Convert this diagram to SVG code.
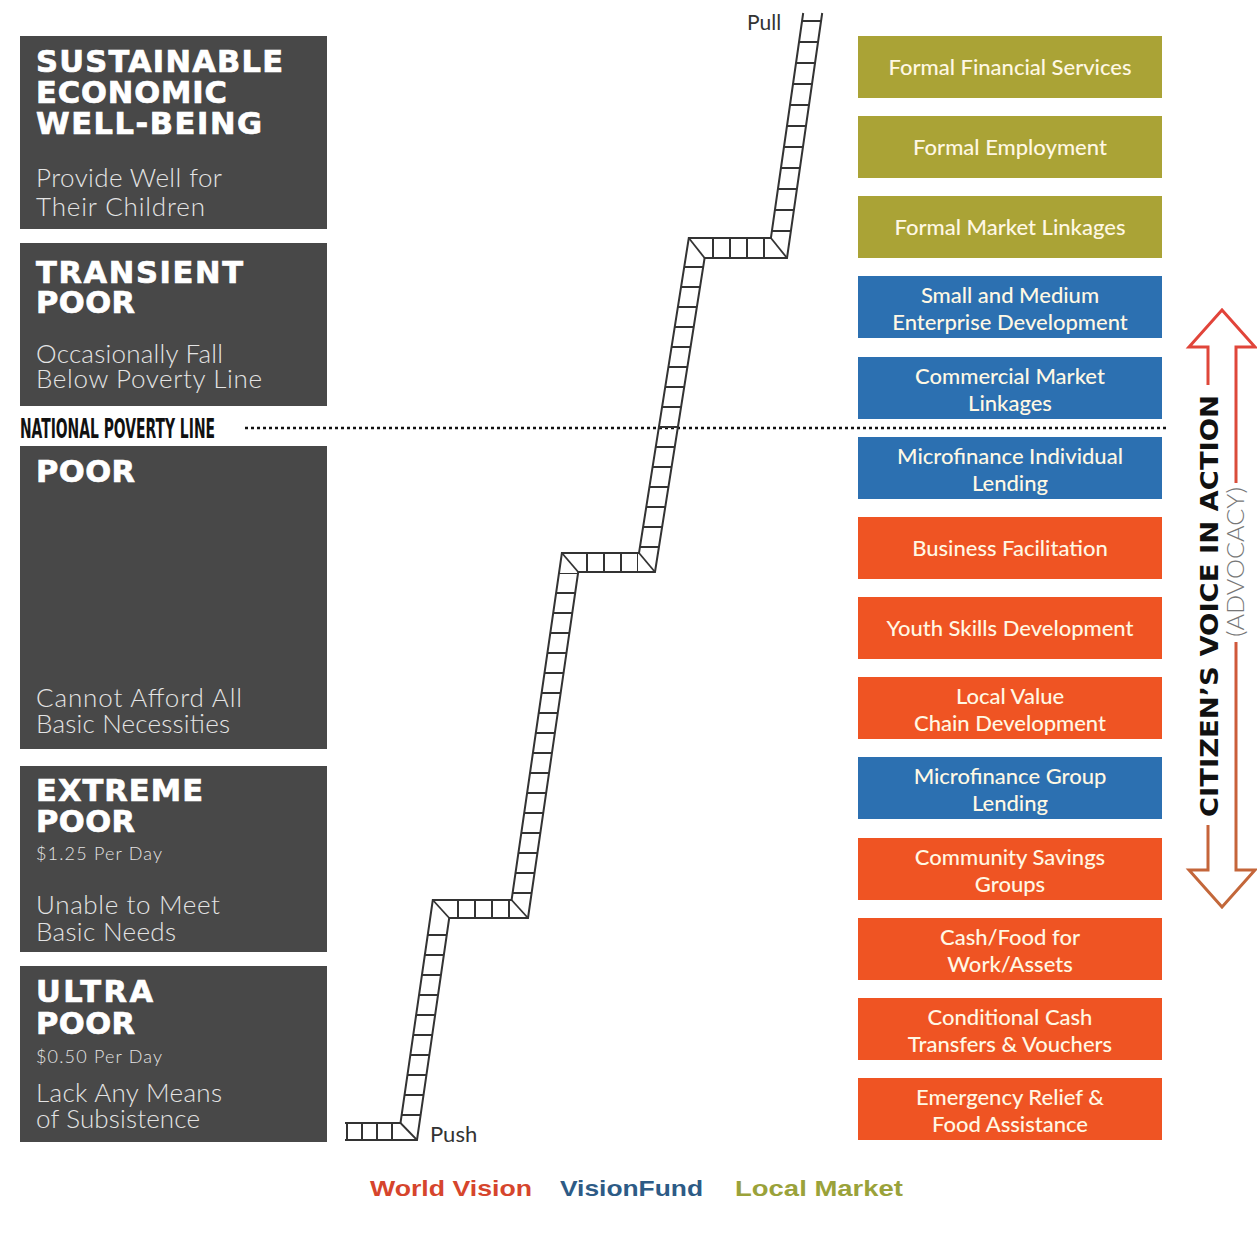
<svg xmlns="http://www.w3.org/2000/svg" width="1257" height="1242" viewBox="0 0 1257 1242">
<defs>
<style>
.lb{fill:#484848}
.tt{font-family:"DejaVu Sans",sans-serif;font-weight:bold;font-size:30.5px;fill:#ffffff;stroke:#ffffff;stroke-width:0.7}
.st{font-family:Lato,"Liberation Sans",sans-serif;font-weight:300;font-size:26px;fill:#e4e4e4}
.sm{font-family:Lato,"Liberation Sans",sans-serif;font-weight:300;font-size:18px;fill:#e4e4e4}
.rt{font-family:Lato,"Liberation Sans",sans-serif;font-weight:500;font-size:22px;fill:#fff8e4;text-anchor:middle}
.ol{fill:#aaa336}
.bl{fill:#2c70b1}
.or{fill:#ef5423}
.rail{fill:none;stroke:#333;stroke-width:2;stroke-linejoin:miter}
.rung{fill:none;stroke:#333}
.fold{stroke:#333;stroke-width:1.8}
</style>
<linearGradient id="ag" gradientUnits="userSpaceOnUse" x1="0" y1="310" x2="0" y2="910">
<stop offset="0" stop-color="#e2433a"/>
<stop offset="1" stop-color="#c2683a"/>
</linearGradient>
</defs>
<rect width="1257" height="1242" fill="#ffffff"/>

<g id="level-sustainable">
<rect class="lb" x="20" y="36" width="307" height="193"/>
<text class="tt" x="36" y="72" textLength="247" lengthAdjust="spacing">SUSTAINABLE</text>
<text class="tt" x="36" y="103" textLength="191" lengthAdjust="spacing">ECONOMIC</text>
<text class="tt" x="36" y="134" textLength="226" lengthAdjust="spacing">WELL-BEING</text>
<text class="st" x="36" y="187" textLength="186">Provide Well for</text>
<text class="st" x="36" y="216" textLength="169">Their Children</text>
</g>
<g id="level-transient">
<rect class="lb" x="20" y="243" width="307" height="163"/>
<text class="tt" x="36" y="283" textLength="207" lengthAdjust="spacing">TRANSIENT</text>
<text class="tt" x="36" y="313" textLength="99" lengthAdjust="spacing">POOR</text>
<text class="st" x="36" y="363" textLength="187">Occasionally Fall</text>
<text class="st" x="36" y="388" textLength="226">Below Poverty Line</text>
</g>
<g id="level-poor">
<rect class="lb" x="20" y="446" width="307" height="303"/>
<text class="tt" x="36" y="482" textLength="99" lengthAdjust="spacing">POOR</text>
<text class="st" x="36" y="707" textLength="206">Cannot Afford All</text>
<text class="st" x="36" y="733" textLength="194">Basic Necessities</text>
</g>
<g id="level-extreme">
<rect class="lb" x="20" y="766" width="307" height="186"/>
<text class="tt" x="36" y="801" textLength="167" lengthAdjust="spacing">EXTREME</text>
<text class="tt" x="36" y="832" textLength="99" lengthAdjust="spacing">POOR</text>
<text class="sm" x="36" y="860" textLength="126">$1.25 Per Day</text>
<text class="st" x="36" y="914" textLength="184">Unable to Meet</text>
<text class="st" x="36" y="941" textLength="140">Basic Needs</text>
</g>
<g id="level-ultra">
<rect class="lb" x="20" y="966" width="307" height="176"/>
<text class="tt" x="36" y="1002" textLength="117" lengthAdjust="spacing">ULTRA</text>
<text class="tt" x="36" y="1034" textLength="99" lengthAdjust="spacing">POOR</text>
<text class="sm" x="36" y="1063" textLength="126">$0.50 Per Day</text>
<text class="st" x="36" y="1102" textLength="186">Lack Any Means</text>
<text class="st" x="36" y="1128" textLength="164">of Subsistence</text>
</g>

<g id="poverty-line">
<text x="20" y="438" font-family="'Liberation Sans Narrow','DejaVu Sans Condensed','Liberation Sans',sans-serif" font-weight="bold" font-size="26" fill="#111" textLength="195" lengthAdjust="spacingAndGlyphs">NATIONAL POVERTY LINE</text>
<line x1="245" y1="428" x2="1166" y2="428" stroke="#111" stroke-width="2.5" stroke-dasharray="3 3"/>
</g>

<g id="ladder">
<path class="rail" d="M345,1123 L400.5,1123 L432.8,900 L511.6,900 L561.9,553 L639,553 L688.8,238 L770.9,238 L803.2,13"/>
<path class="rail" d="M345,1140 L417,1140 L449.2,918 L528,918 L578.2,572 L655,572 L704.6,258 L787,258 L822.2,13"/>
<line class="fold" x1="400.5" y1="1123" x2="417" y2="1140"/>
<line class="fold" x1="432.8" y1="900" x2="449.2" y2="918"/>
<line class="fold" x1="511.6" y1="900" x2="528" y2="918"/>
<line class="fold" x1="561.9" y1="553" x2="578.2" y2="572"/>
<line class="fold" x1="639" y1="553" x2="655" y2="572"/>
<line class="fold" x1="688.8" y1="238" x2="704.6" y2="258"/>
<line class="fold" x1="770.9" y1="238" x2="787" y2="258"/>
<line class="rung" x1="346" y1="1131.5" x2="398" y2="1131.5" stroke-width="17" stroke-dasharray="2 13"/>
<line class="rung" x1="457" y1="909" x2="510" y2="909" stroke-width="18" stroke-dasharray="2 15"/>
<line class="rung" x1="586" y1="562.5" x2="638" y2="562.5" stroke-width="19" stroke-dasharray="2 15"/>
<line class="rung" x1="712" y1="248" x2="770" y2="248" stroke-width="20" stroke-dasharray="2 15"/>
<g transform="translate(398,1140) skewX(-8.25)">
<line class="rung" x1="9.5" y1="-24" x2="9.5" y2="-222" stroke-width="19" stroke-dasharray="2 18"/>
</g>
<g transform="translate(509,918) skewX(-8.25)">
<line class="rung" x1="9.5" y1="-24" x2="9.5" y2="-345" stroke-width="19" stroke-dasharray="2 18"/>
</g>
<g transform="translate(636,572) skewX(-8.98)">
<line class="rung" x1="9.5" y1="-24" x2="9.5" y2="-314" stroke-width="19" stroke-dasharray="2 18"/>
</g>
<g transform="translate(768,258) skewX(-8.25)">
<line class="rung" x1="9.5" y1="-26" x2="9.5" y2="-240" stroke-width="19" stroke-dasharray="2 19"/>
</g>
<text x="430" y="1142" font-family="Lato,'Liberation Sans',sans-serif" font-size="22" fill="#333">Push</text>
<text x="747" y="30" font-family="Lato,'Liberation Sans',sans-serif" font-size="21" fill="#333">Pull</text>
</g>

<g id="svc-formal-financial"><rect class="ol" x="858" y="36" width="304" height="62"/><text class="rt" x="1010" y="75">Formal Financial Services</text></g>
<g id="svc-formal-employment"><rect class="ol" x="858" y="116" width="304" height="62"/><text class="rt" x="1010" y="155">Formal Employment</text></g>
<g id="svc-formal-market"><rect class="ol" x="858" y="196" width="304" height="62"/><text class="rt" x="1010" y="235">Formal Market Linkages</text></g>
<g id="svc-sme"><rect class="bl" x="858" y="276" width="304" height="62"/><text class="rt" x="1010" y="303">Small and Medium</text><text class="rt" x="1010" y="330">Enterprise Development</text></g>
<g id="svc-commercial"><rect class="bl" x="858" y="357" width="304" height="62"/><text class="rt" x="1010" y="384">Commercial Market</text><text class="rt" x="1010" y="411">Linkages</text></g>
<g id="svc-mf-individual"><rect class="bl" x="858" y="437" width="304" height="62"/><text class="rt" x="1010" y="464">Microfinance Individual</text><text class="rt" x="1010" y="491">Lending</text></g>
<g id="svc-business"><rect class="or" x="858" y="517" width="304" height="62"/><text class="rt" x="1010" y="556">Business Facilitation</text></g>
<g id="svc-youth"><rect class="or" x="858" y="597" width="304" height="62"/><text class="rt" x="1010" y="636">Youth Skills Development</text></g>
<g id="svc-value-chain"><rect class="or" x="858" y="677" width="304" height="62"/><text class="rt" x="1010" y="704">Local Value</text><text class="rt" x="1010" y="731">Chain Development</text></g>
<g id="svc-mf-group"><rect class="bl" x="858" y="757" width="304" height="62"/><text class="rt" x="1010" y="784">Microfinance Group</text><text class="rt" x="1010" y="811">Lending</text></g>
<g id="svc-savings"><rect class="or" x="858" y="838" width="304" height="62"/><text class="rt" x="1010" y="865">Community Savings</text><text class="rt" x="1010" y="892">Groups</text></g>
<g id="svc-cash-food"><rect class="or" x="858" y="918" width="304" height="62"/><text class="rt" x="1010" y="945">Cash/Food for</text><text class="rt" x="1010" y="972">Work/Assets</text></g>
<g id="svc-cct"><rect class="or" x="858" y="998" width="304" height="62"/><text class="rt" x="1010" y="1025">Conditional Cash</text><text class="rt" x="1010" y="1052">Transfers &amp; Vouchers</text></g>
<g id="svc-emergency"><rect class="or" x="858" y="1078" width="304" height="62"/><text class="rt" x="1010" y="1105">Emergency Relief &amp;</text><text class="rt" x="1010" y="1132">Food Assistance</text></g>

<g id="advocacy">
<path d="M1208,385 L1208,347 L1189,347 L1222,310 L1255,347 L1236,347 L1236,483" fill="none" stroke="url(#ag)" stroke-width="3"/>
<path d="M1236,642 L1236,870 L1255,870 L1222,907 L1189,870 L1208,870 L1208,825" fill="none" stroke="url(#ag)" stroke-width="3"/>
<text transform="translate(1218,606) rotate(-90)" text-anchor="middle" font-family="'DejaVu Sans',sans-serif" font-weight="bold" font-size="25" fill="#111" textLength="422" lengthAdjust="spacingAndGlyphs">CITIZEN’S VOICE IN ACTION</text>
<text transform="translate(1244,562) rotate(-90)" text-anchor="middle" font-family="Lato,'Liberation Sans',sans-serif" font-weight="300" font-size="24" fill="#777" textLength="150" lengthAdjust="spacingAndGlyphs">(ADVOCACY)</text>
</g>

<g id="legend" font-family="'Liberation Sans',sans-serif" font-weight="bold" font-size="22">
<text x="370" y="1196" fill="#d6452c" textLength="162" lengthAdjust="spacingAndGlyphs">World Vision</text>
<text x="560" y="1196" fill="#2d5b86" textLength="143" lengthAdjust="spacingAndGlyphs">VisionFund</text>
<text x="735" y="1196" fill="#9aa23a" textLength="168" lengthAdjust="spacingAndGlyphs">Local Market</text>
</g>
</svg>
